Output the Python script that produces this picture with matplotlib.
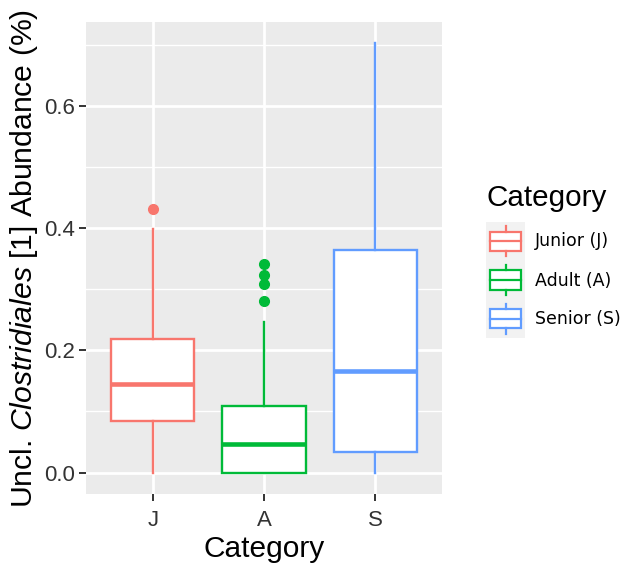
import matplotlib
matplotlib.use("Agg")
import matplotlib.pyplot as plt
from matplotlib.patches import Rectangle

plt.rcParams['font.family'] = ['Liberation Sans', 'DejaVu Sans']
plt.rcParams['mathtext.fontset'] = 'custom'
plt.rcParams['mathtext.rm'] = 'Liberation Sans'
plt.rcParams['mathtext.it'] = 'Liberation Sans:italic'

# box summaries (abundance, %)
categories = ['J', 'A', 'S']
legend_labels = ['Junior (J)', 'Adult (A)', 'Senior (S)']
colors = ['#F8766D', '#00BA38', '#619CFF']
whislo = [0.0, 0.0, 0.0]
q1 = [0.084, 0.0, 0.034]
med = [0.145, 0.047, 0.167]
q3 = [0.219, 0.109, 0.365]
whishi = [0.399, 0.246, 0.703]
fliers = [[0.432], [0.281, 0.309, 0.324, 0.342], []]

fig = plt.figure(figsize=(6.24, 5.7), dpi=100)
ax = fig.add_axes([86 / 624, 76 / 570, 356 / 624, 472 / 570])
ax.set_facecolor('#EBEBEB')
for s in ax.spines.values():
    s.set_visible(False)

stats = []
for i in range(3):
    stats.append(dict(whislo=whislo[i], q1=q1[i], med=med[i], q3=q3[i],
                      whishi=whishi[i], fliers=fliers[i]))

for i, st in enumerate(stats):
    c = colors[i]
    ax.bxp([st], positions=[i + 1], widths=0.75, patch_artist=True, showcaps=False,
           boxprops=dict(facecolor='white', edgecolor=c, linewidth=1.7),
           whiskerprops=dict(color=c, linewidth=1.7),
           medianprops=dict(color=c, linewidth=3.3),
           flierprops=dict(marker='o', markerfacecolor=c, markeredgecolor=c, markersize=7),
           zorder=3)

ax.set_xlim(0.4, 3.6)
ax.set_ylim(-0.0352, 0.7382)
ax.set_xticks([1, 2, 3])
ax.set_xticklabels(categories)
ax.set_yticks([0.0, 0.2, 0.4, 0.6])
ax.set_yticklabels(['0.0', '0.2', '0.4', '0.6'])
ax.set_yticks([0.1, 0.3, 0.5, 0.7], minor=True)
ax.grid(True, which='major', color='white', linewidth=2.0, zorder=0)
ax.grid(True, which='minor', axis='y', color='white', linewidth=1.0, zorder=0)
ax.set_axisbelow(True)
ax.tick_params(axis='both', which='major', length=5.2, width=1.4, color='#333333',
               labelcolor='#333333', labelsize=16, pad=2.5)
ax.tick_params(axis='x', which='major', pad=6.5)
ax.tick_params(axis='y', which='minor', length=0)

ax.set_xlabel('Category', fontsize=21.5, labelpad=3)
ax.set_ylabel(r'Uncl. $\it{Clostridiales}$ [1] Abundance (%)', fontsize=21.7, labelpad=3)

# legend
fig.text(487 / 624, 1 - 206 / 570, 'Category', fontsize=21.3, ha='left', va='baseline')
kax = fig.add_axes([486 / 624, 1 - 338 / 570, 39 / 624, 116 / 570])
kax.set_facecolor('#F2F2F2')
kax.set_xlim(0, 1)
kax.set_ylim(0, 3)
kax.set_xticks([])
kax.set_yticks([])
for s in kax.spines.values():
    s.set_visible(False)
for i, c in enumerate(colors):
    yc = 2.5 - i
    kax.add_patch(Rectangle((0.1, yc - 0.25), 0.8, 0.5, facecolor='white',
                            edgecolor=c, linewidth=1.6))
    kax.plot([0.1, 0.9], [yc, yc], color=c, linewidth=1.6)
    kax.plot([0.5, 0.5], [yc + 0.25, yc + 0.39], color=c, linewidth=1.6)
    kax.plot([0.5, 0.5], [yc - 0.25, yc - 0.39], color=c, linewidth=1.6)
    fig.text(535 / 624, 1 - (241.5 + 39 * i) / 570, legend_labels[i], fontsize=12.5,
             family='DejaVu Sans', ha='left', va='center')

fig.savefig('out.png', dpi=100)
